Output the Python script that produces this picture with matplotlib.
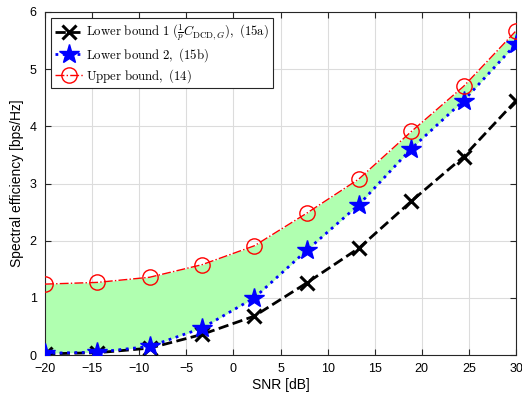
import numpy as np
import matplotlib
matplotlib.use('Agg')
import matplotlib.pyplot as plt

plt.rcParams['font.family'] = ['Liberation Sans', 'DejaVu Sans']
plt.rcParams['mathtext.fontset'] = 'cm'

# ------------------------------- data --------------------------------------- #
snr = [-20, -14.44, -8.89, -3.33, 2.22, 7.78, 13.33, 18.89, 24.44, 30]
lower1 = [0.02, 0.04, 0.12, 0.36, 0.68, 1.26, 1.87, 2.69, 3.47, 4.45]
lower2 = [0.03, 0.05, 0.15, 0.47, 1.00, 1.83, 2.63, 3.61, 4.45, 5.44]
upper = [1.24, 1.27, 1.36, 1.58, 1.91, 2.48, 3.08, 3.91, 4.70, 5.67]

labels = [r'$\mathrm{Lower\ bound\ 1\ (}\frac{1}{p}C_{\mathrm{DCD},G}\mathrm{),\ (15a)}$',
          r'$\mathrm{Lower\ bound\ 2,\ (15b)}$',
          r'$\mathrm{Upper\ bound,\ (14)}$']

# ------------------------- figure and axes ---------------------------------- #
fig = plt.figure(figsize=(5.22, 4.01), dpi=100)
ax = fig.add_axes([45/522, 1 - 355/401, 471/522, 343/401])

ax.fill_between(snr, lower2, upper, color='#b0ffb0', linewidth=0, zorder=1)

ax.plot(snr, lower1, 'k--', marker='x', markersize=10, mew=2.2, lw=2,
        label=labels[0], zorder=3)
ax.plot(snr, lower2, ':', color='b', marker='*', markersize=15, mec='b',
        mfc='b', lw=2, label=labels[1], zorder=4)
ax.plot(snr, upper, '-.', color='r', marker='o', markersize=11, mfc='none',
        mec='r', mew=1, lw=1, label=labels[2], zorder=5)

# ---------------------------- titles & misc -------------------------------- #
ax.set_xlim(-20, 30)
ax.set_ylim(0, 6)
ax.set_xticks(np.arange(-20, 31, 5))
ax.set_yticks(np.arange(0, 7, 1))
ax.grid(True, color='#dcdcdc', linewidth=0.8)
ax.set_axisbelow(True)
ax.tick_params(direction='in', top=True, right=True, labelsize=9, length=4,
               color='#262626', pad=6)
for s in ax.spines.values():
    s.set_color('#262626')
    s.set_linewidth(0.8)
ax.set_xlabel('SNR [dB]', fontsize=10, labelpad=2)
ax.set_ylabel('Spectral efficiency [bps/Hz]', fontsize=10, labelpad=4)

leg = ax.legend(loc='upper left', fontsize=9.2, fancybox=False, framealpha=1,
                edgecolor='#262626', handlelength=2.2, handletextpad=0.2,
                borderpad=0.3, labelspacing=0.25, borderaxespad=0.5)
leg.get_frame().set_linewidth(0.8)

fig.savefig('out.png', dpi=100)
